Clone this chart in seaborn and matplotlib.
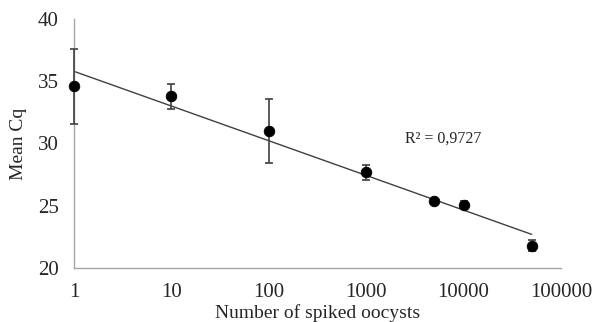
import numpy as np
import pandas as pd
import seaborn as sns
import matplotlib.pyplot as plt

# Data
oocysts = [1, 10, 100, 1000, 5000, 10000, 50000]
mean_cq = [34.6, 33.8, 31.0, 27.7, 25.35, 25.05, 21.8]
cq_err = [3.0, 1.0, 2.6, 0.6, 0.2, 0.35, 0.45]

df = pd.DataFrame({"oocysts": oocysts, "cq": mean_cq, "err": cq_err})

sns.set_style("white")
plt.rcParams["font.family"] = ["Liberation Serif", "DejaVu Serif"]

fig = plt.figure(figsize=(5.93, 3.22), dpi=100)
ax = fig.add_axes([0.1248, 0.1677, 0.8212, 0.7733])
ax.set_xscale("log")

# Logarithmic trendline (linear in log x)
sns.regplot(data=df, x="oocysts", y="cq", logx=True, ci=None, truncate=True,
            scatter=False, ax=ax, line_kws={"color": "#404040", "lw": 1.0})

ax.errorbar(df["oocysts"], df["cq"], yerr=df["err"], fmt="none",
            ecolor="#404040", elinewidth=1.2, capsize=3, capthick=1.2,
            clip_on=False, zorder=3)
sns.scatterplot(data=df, x="oocysts", y="cq", ax=ax, color="black", s=58,
                edgecolor="black", zorder=4, clip_on=False)

ax.set_xlim(1, 100000)
ax.set_ylim(20, 40)
ax.set_yticks([20, 25, 30, 35, 40])
ax.set_xticks([1, 10, 100, 1000, 10000, 100000])
ax.set_xticklabels(["1", "10", "100", "1000", "10000", "100000"])
ax.minorticks_off()

for side in ["top", "right"]:
    ax.spines[side].set_visible(False)
for side in ["left", "bottom"]:
    ax.spines[side].set_color("#a6a6a6")
    ax.spines[side].set_linewidth(1.0)

ax.tick_params(axis="both", which="major", direction="out", length=4,
               width=1.0, color="#a6a6a6", labelsize=15, pad=7)

ax.set_ylabel("Mean Cq", fontsize=14, labelpad=8)
ax.set_xlabel("Number of spiked oocysts", fontsize=14, labelpad=1)

ax.text(2500, 30.4, "R² = 0,9727", fontsize=11.5, va="center", ha="left")

fig.savefig("out.png", dpi=100)
